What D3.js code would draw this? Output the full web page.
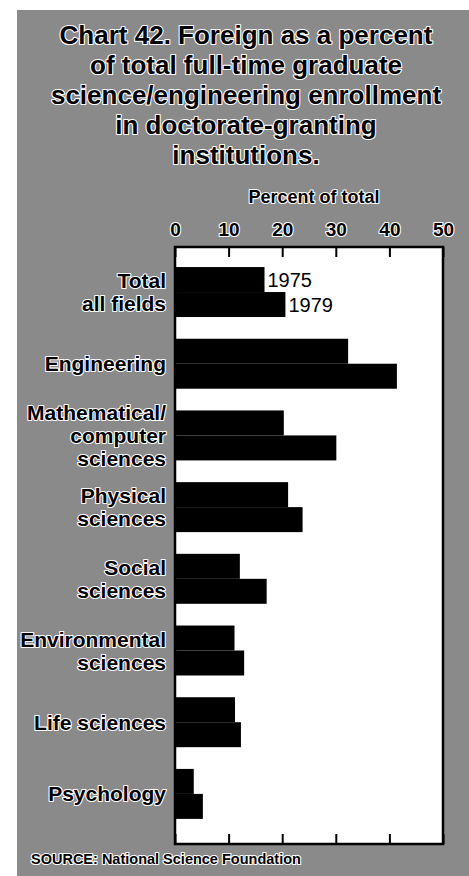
<!DOCTYPE html>
<html>
<head>
<meta charset="utf-8">
<script src="https://cdn.jsdelivr.net/npm/d3@7"></script>
<style>
  html, body { margin: 0; padding: 0; background: #ffffff; }
  svg { display: block; }
  text { font-family: "Liberation Sans", Arial, Helvetica, sans-serif; }
  .halo { fill: #000; stroke: #fff; stroke-width: 2.2px; stroke-linejoin: round; paint-order: stroke; font-weight: bold; }
</style>
</head>
<body>
<svg id="chart" width="469" height="876"></svg>
<script>
// Foreign students as a percent of full-time graduate S/E enrollment
const titleLines = [
  "Chart 42. Foreign as a percent",
  "of total full-time graduate",
  "science/engineering enrollment",
  "in doctorate-granting",
  "institutions."
];
const axisTitle = "Percent of total";
const categories = [
  "Total all fields",
  "Engineering",
  "Mathematical/ computer sciences",
  "Physical sciences",
  "Social sciences",
  "Environmental sciences",
  "Life sciences",
  "Psychology"
];
// label lines for each category
const categoryLines = [
  ["Total", "all fields"],
  ["Engineering"],
  ["Mathematical/", "computer", "sciences"],
  ["Physical", "sciences"],
  ["Social", "sciences"],
  ["Environmental", "sciences"],
  ["Life sciences"],
  ["Psychology"]
];
const years = ["1975", "1979"];
const values1975 = [16.7, 32.3, 20.3, 21.1, 12.1, 11.1, 11.2, 3.5];
const values1979 = [20.6, 41.4, 30.1, 23.8, 17.1, 12.9, 12.3, 5.2];
const tickValues = [0, 10, 20, 30, 40, 50];
const sourceNote = "SOURCE: National Science Foundation";

const svg = d3.select("#chart");
const W = 469, H = 876;

// tinted page
svg.append("rect")
  .attr("x", 17).attr("y", 10)
  .attr("width", W - 17).attr("height", H - 10)
  .attr("fill", "#8a8a8a");

// title
const title = svg.append("text")
  .attr("class", "halo")
  .attr("text-anchor", "middle")
  .style("font-size", "26px");
titleLines.forEach((line, i) => {
  title.append("tspan")
    .attr("x", 246)
    .attr("y", 44 + i * 30)
    .text(line);
});

// plot frame geometry
const plot = { left: 175, right: 443, top: 247, bottom: 844 };

const x = d3.scaleLinear().domain([0, 50]).range([plot.left, plot.right]);
const y = d3.scaleBand().domain(categories)
  .range([plot.top, plot.bottom])
  .paddingInner(0.303).paddingOuter(0.315).align(0.444);
const yInner = d3.scaleBand().domain(years).range([0, y.bandwidth()]);

// white panel
svg.append("rect")
  .attr("x", plot.left).attr("y", plot.top)
  .attr("width", plot.right - plot.left).attr("height", plot.bottom - plot.top)
  .attr("fill", "#fff");

// top axis: ticks point inward, labels above
const topAxis = svg.append("g")
  .attr("transform", `translate(0,${plot.top})`)
  .call(d3.axisTop(x).tickValues(tickValues).tickSize(-10).tickPadding(11).tickFormat(d3.format("d")));
topAxis.select(".domain").remove();
topAxis.selectAll(".tick line").attr("stroke", "#000").attr("stroke-width", 2);
topAxis.selectAll(".tick text")
  .attr("class", "halo")
  .attr("fill", "#000")
  .style("font-size", "19px");

// bottom axis: inward ticks only
const bottomAxis = svg.append("g")
  .attr("transform", `translate(0,${plot.bottom})`)
  .call(d3.axisBottom(x).tickValues(tickValues).tickSize(-10).tickFormat(""));
bottomAxis.select(".domain").remove();
bottomAxis.selectAll(".tick line").attr("stroke", "#000").attr("stroke-width", 2);

// axis title
svg.append("text")
  .attr("class", "halo")
  .attr("x", 314).attr("y", 203)
  .attr("text-anchor", "middle")
  .style("font-size", "18px")
  .text(axisTitle);

// bars
const rows = categories.map((c, i) => ({ cat: c, v: { "1975": values1975[i], "1979": values1979[i] } }));
const groups = svg.append("g").selectAll("g")
  .data(rows).join("g")
  .attr("transform", d => `translate(0,${y(d.cat)})`);
groups.selectAll("rect")
  .data(d => years.map(yr => ({ yr, value: d.v[yr] })))
  .join("rect")
  .attr("x", x(0))
  .attr("y", d => yInner(d.yr))
  .attr("width", d => x(d.value) - x(0))
  .attr("height", yInner.bandwidth())
  .attr("fill", "#000");

// year key beside the first pair of bars
years.forEach(yr => {
  const v = yr === "1975" ? values1975[0] : values1979[0];
  svg.append("text")
    .attr("x", x(v) + 3)
    .attr("y", y(categories[0]) + yInner(yr) + yInner.bandwidth() / 2)
    .attr("dy", "0.36em")
    .style("font-size", "20px")
    .attr("fill", "#000")
    .text(yr);
});

// frame
svg.append("rect")
  .attr("x", plot.left).attr("y", plot.top)
  .attr("width", plot.right - plot.left).attr("height", plot.bottom - plot.top)
  .attr("fill", "none").attr("stroke", "#000").attr("stroke-width", 2.5);

// category labels
const lineH = 23;
categories.forEach((c, i) => {
  const lines = categoryLines[i];
  const cy = y(c) + y.bandwidth() / 2;
  const t = svg.append("text")
    .attr("class", "halo")
    .attr("text-anchor", "end")
    .style("font-size", "21px");
  lines.forEach((ln, j) => {
    t.append("tspan")
      .attr("x", plot.left - 9)
      .attr("y", cy + (j - (lines.length - 1) / 2) * lineH)
      .attr("dy", "0.36em")
      .text(ln);
  });
});

// source line
svg.append("text")
  .attr("class", "halo")
  .attr("x", 31).attr("y", 864)
  .style("font-size", "14.5px")
  .text(sourceNote);
</script>
</body>
</html>
